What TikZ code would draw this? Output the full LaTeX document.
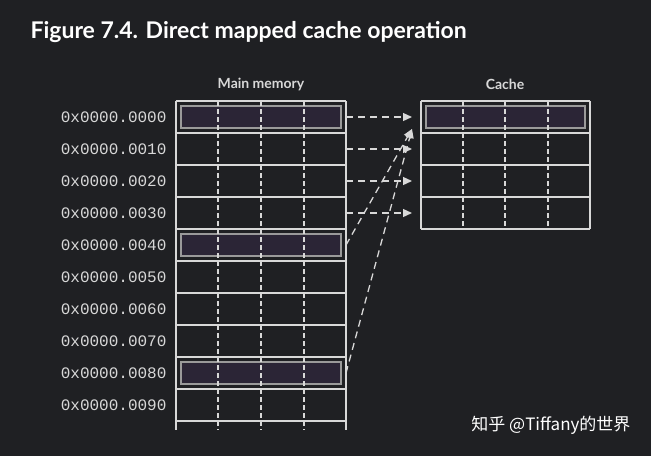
\documentclass[tikz,border=0pt]{standalone}
\usepackage{fontspec}
\setmainfont{Lato}
\setmonofont{Liberation Mono}
\newfontfamily\cjk{Noto Sans CJK SC}
\usetikzlibrary{arrows.meta}
\definecolor{bg}{HTML}{1F2023}
\definecolor{ln}{HTML}{D8D8D8}
\definecolor{hl}{HTML}{2B2536}
\definecolor{hlb}{HTML}{9A9A9A}
\tikzset{
  grid/.style={draw=ln, line width=1.2pt},
  vdash/.style={draw=ln, line width=1.2pt, dash pattern=on 5pt off 3pt},
  hlbox/.style={fill=hl, draw=hlb, line width=1.5pt},
  addr/.style={text=ln, font=\ttfamily\fontsize{16}{18}\selectfont, anchor=east},
  arr/.style={draw=ln, line width=1.3pt, dash pattern=on 7pt off 5pt, -{Triangle[length=9pt,width=8pt]}},
}
\begin{document}
\begin{tikzpicture}[x=1pt,y=-1pt]
\fill[bg] (0,0) rectangle (651,456);
\useasboundingbox (0,0) rectangle (651,456);
\node[anchor=west, text=white, font=\bfseries\fontsize{23}{27}\selectfont] (title) at (27,32) {Figure 7.4. Direct mapped cache operation};
\node[text=ln, font=\bfseries\fontsize{14}{16}\selectfont] (mmlab) at (261,84) {Main memory};
\node[text=ln, font=\bfseries\fontsize{14}{16}\selectfont] (clab) at (505,84) {Cache};
% memory
\foreach \i/\a in {0/0000,1/0010,2/0020,3/0030,4/0040,5/0050,6/0060,7/0070,8/0080,9/0090}{
  \node[addr] (a\i) at (170,{117+32*\i}) {0x0000.\a};
  \coordinate (m\i) at (346,{117+32*\i});
}
\foreach \i in {0,4,8}{ \fill[bg] (176,{101+32*\i}) rectangle (346,{133+32*\i});
  \draw[hlbox] (181,{106+32*\i}) rectangle (341,{128+32*\i}); }
\foreach \x in {218,261,304}{ \draw[vdash] (\x,101) -- (\x,430); }
\foreach \i in {0,...,10}{ \draw[grid] (176,{101+32*\i}) -- (346,{101+32*\i}); }
\draw[grid] (176,101) -- (176,430);
\draw[grid] (346,101) -- (346,430);
% cache
\draw[hlbox] (426,106) rectangle (585,128);
\foreach \x in {463,505,548}{ \draw[vdash] (\x,101) -- (\x,229); }
\foreach \i in {0,...,4}{ \draw[grid] (421,{101+32*\i}) -- (590,{101+32*\i}); }
\draw[grid] (421,101) -- (421,229);
\draw[grid] (590,101) -- (590,229);
\foreach \i in {0,...,3}{ \coordinate (c\i) at (412,{117+32*\i}); }
\coordinate (cd) at (412,129);
\foreach \i in {0,...,3}{ \draw[arr] (m\i) -- (c\i); }
\draw[arr] (m4) -- (cd);
\draw[arr] (m8) -- (cd);
\node[anchor=east, text=white, font=\cjk\fontsize{17}{20}\selectfont] (wm) at (634,425) {知乎 @Tiffany的世界};
\end{tikzpicture}
\end{document}
